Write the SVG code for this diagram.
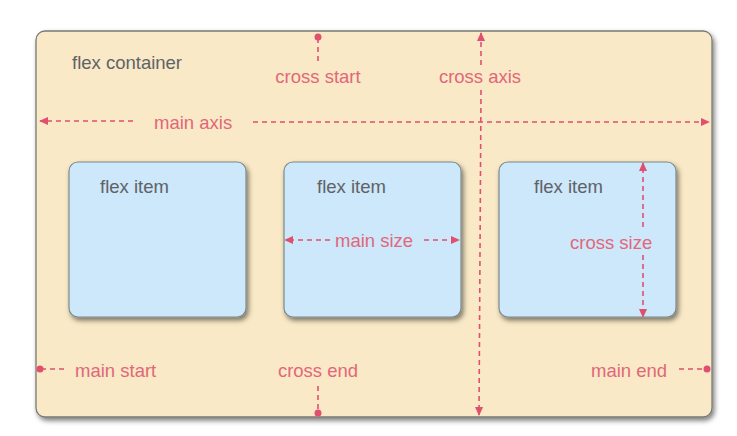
<svg xmlns="http://www.w3.org/2000/svg" width="737" height="436" viewBox="0 0 737 436">
<defs>
<filter id="sh" x="-10%" y="-10%" width="125%" height="125%">
<feDropShadow dx="2" dy="3" stdDeviation="2.5" flood-color="#000" flood-opacity="0.5"/>
</filter>
<marker id="ah" viewBox="0 0 10 10" refX="9" refY="5" markerWidth="9" markerHeight="9" markerUnits="userSpaceOnUse" orient="auto-start-reverse">
<path d="M0,0.5 L10,5 L0,9.5 z" fill="#e0506e"/>
</marker>
</defs>
<style>
.lbl{font-family:"Liberation Sans",Arial,Helvetica,sans-serif;font-size:18.5px;fill:#e2677a}
.nm{font-family:"Liberation Sans",Arial,Helvetica,sans-serif;font-size:18.5px;fill:#5f6366}
.dash{stroke:#e0506e;stroke-width:1.6;stroke-dasharray:5 4;fill:none}
.dot{fill:#e0506e}
.item{fill:#cde7fb;stroke:#7d8a8c;stroke-width:1.2}
</style>
<rect width="737" height="436" fill="#fff"/>
<g id="container">
<rect x="36" y="31" width="676" height="386" rx="9" fill="#f9e9c6" stroke="#7a7a72" stroke-width="1.3" filter="url(#sh)"/>
<text class="nm" x="72" y="69">flex container</text>
</g>
<g id="item1">
<rect class="item" x="69" y="162" width="177" height="155" rx="9" filter="url(#sh)"/>
<text class="nm" x="100" y="193">flex item</text>
</g>
<g id="item2">
<rect class="item" x="284" y="162" width="177" height="155" rx="9" filter="url(#sh)"/>
<text class="nm" x="317" y="193">flex item</text>
</g>
<g id="item3">
<rect class="item" x="499" y="162" width="177" height="155" rx="9" filter="url(#sh)"/>
<text class="nm" x="534" y="193">flex item</text>
</g>
<g id="connectors">
<line class="dash" x1="133" y1="121" x2="40" y2="121" marker-end="url(#ah)"/>
<line class="dash" x1="253" y1="122" x2="709" y2="122" marker-end="url(#ah)"/>
<line class="dash" x1="481" y1="65" x2="481" y2="33" marker-end="url(#ah)"/>
<line class="dash" x1="481" y1="90" x2="479" y2="415" marker-end="url(#ah)"/>
<line class="dash" x1="318" y1="38" x2="318" y2="64"/>
<circle class="dot" cx="318" cy="37" r="3.5"/>
<line class="dash" x1="318" y1="386" x2="318" y2="411"/>
<circle class="dot" cx="318" cy="413" r="3.5"/>
<line class="dash" x1="41" y1="369" x2="68" y2="369"/>
<circle class="dot" cx="40" cy="369" r="3.5"/>
<line class="dash" x1="679" y1="369" x2="706" y2="369"/>
<circle class="dot" cx="707" cy="369" r="3.5"/>
<line class="dash" x1="330" y1="240" x2="285" y2="240" marker-end="url(#ah)"/>
<line class="dash" x1="424" y1="240" x2="459" y2="240" marker-end="url(#ah)"/>
<line class="dash" x1="643" y1="227" x2="643" y2="163" marker-end="url(#ah)"/>
<line class="dash" x1="643" y1="255" x2="643" y2="317" marker-end="url(#ah)"/>
</g>
<g id="labels">
<text class="lbl" x="318" y="83" text-anchor="middle">cross start</text>
<text class="lbl" x="480" y="83" text-anchor="middle">cross axis</text>
<text class="lbl" x="154" y="129">main axis</text>
<text class="lbl" x="335" y="247">main size</text>
<text class="lbl" x="570" y="249">cross size</text>
<text class="lbl" x="75" y="377">main start</text>
<text class="lbl" x="318" y="377" text-anchor="middle">cross end</text>
<text class="lbl" x="591" y="377">main end</text>
</g>
</svg>
